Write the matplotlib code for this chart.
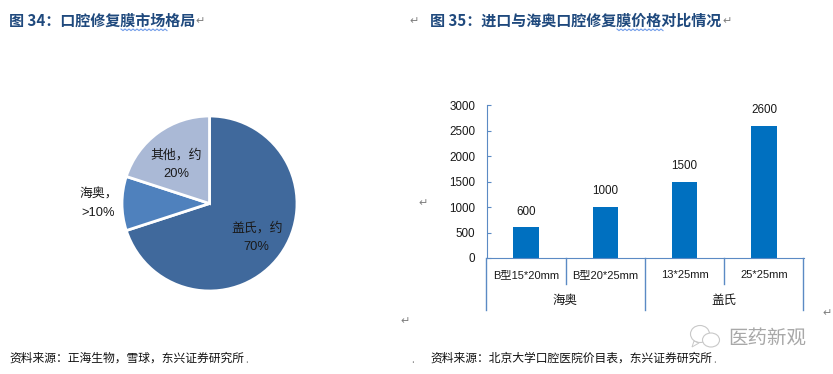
import matplotlib
matplotlib.use("Agg")
import matplotlib.pyplot as plt
from matplotlib.patches import Ellipse, Polygon

plt.rcParams['font.family'] = ['Noto Sans CJK SC', 'DejaVu Sans']
label_font = ['Liberation Sans', 'Noto Sans CJK SC']

W, H = 833, 374

# pie data
share_labels = ['盖氏，约\n70%', '海奥，\n>10%', '其他，约\n20%']
share_values = [70, 10, 20]
share_colors = ['#40699C', '#4F81BD', '#AAB9D6']

# bar data
price_labels = ['B型15*20mm', 'B型20*25mm', '13*25mm', '25*25mm']
price_values = [600, 1000, 1500, 2600]
brand_names = ['海奥', '盖氏']
y_ticks = [0, 500, 1000, 1500, 2000, 2500, 3000]

axis_col = '#5B8AC4'
title_col = '#1F497D'
mark_col = '#7F7F7F'
text_col = '#1a1a1a'


def px_axes(left, top, right, bottom):
    return fig.add_axes([left / W, 1 - bottom / H, (right - left) / W, (bottom - top) / H])


fig = plt.figure(figsize=(W / 100, H / 100), dpi=100, facecolor='white')

# pie
r = 87.5
ax1 = px_axes(209.5 - r, 203.5 - r, 209.5 + r, 203.5 + r)
ax1.pie(share_values, colors=share_colors, startangle=90, counterclock=False, radius=1,
        wedgeprops=dict(edgecolor='white', linewidth=2))
ax1.set_xlim(-1, 1)
ax1.set_ylim(-1, 1)
label_pos = [(0.54, -0.39), (-1.27, -0.005), (-0.383, 0.446)]
for lab, (lx, ly) in zip(share_labels, label_pos):
    ax1.text(lx, ly, lab, ha='center', va='center', fontsize=9.3, color=text_col,
             linespacing=1.65, family=label_font)

# bars
ax2 = px_axes(486.5, 105.3, 803.5, 258)
x = list(range(len(price_values)))
ax2.bar(x, price_values, width=0.32, color='#0070C0')
ax2.set_xlim(-0.5, 3.5)
ax2.set_ylim(0, 3000)
ax2.set_yticks(y_ticks)
ax2.tick_params(axis='y', direction='in', length=3, color=axis_col, pad=8)
for t in ax2.get_yticklabels():
    t.set_fontsize(8.4)
    t.set_color(text_col)
    t.set_family(label_font)
ax2.set_xticks(x)
ax2.set_xticklabels(price_labels, fontsize=8, color=text_col, family=label_font)
ax2.tick_params(axis='x', length=0, pad=9)
for s in ['top', 'right']:
    ax2.spines[s].set_visible(False)
ax2.spines['left'].set_color(axis_col)
ax2.spines['bottom'].set_color(axis_col)
for xi, v in zip(x, price_values):
    ax2.annotate(str(v), (xi, v), xytext=(0, 7), textcoords='offset points',
                 ha='center', va='bottom', fontsize=8.4, color=text_col, family=label_font)

# overlay in pixel coordinates for the multi-level axis and page marks
ov = fig.add_axes([0, 0, 1, 1], zorder=5)
ov.set_xlim(0, W)
ov.set_ylim(H, 0)
ov.axis('off')
ov.patch.set_alpha(0)

for px in [486.5, 645, 803.5]:
    ov.plot([px, px], [258, 310], color=axis_col, lw=1)
for px in [566, 724.5]:
    ov.plot([px, px], [258, 284], color=axis_col, lw=1)
ov.text(565.5, 300.5, brand_names[0], ha='center', va='center', fontsize=9, color=text_col)
ov.text(724, 300.5, brand_names[1], ha='center', va='center', fontsize=9, color=text_col)

# headings
ov.text(9, 20.5, '图 34：口腔修复膜市场格局', fontsize=10.85, fontweight='bold', color=title_col, va='center')
ov.text(430, 20.5, '图 35：进口与海奥口腔修复膜价格对比情况', fontsize=10.85, fontweight='bold', color=title_col, va='center')

# sources
ov.text(9, 358.5, '资料来源：正海生物，雪球，东兴证券研究所', fontsize=8.5, style='italic', color='#111111', va='center')
ov.text(430, 358.5, '资料来源：北京大学口腔医院价目表，东兴证券研究所', fontsize=8.5, style='italic', color='#111111', va='center')

# paragraph marks
for mx, my in [(200, 21), (414, 21), (727, 21), (423, 203), (405, 321), (827, 313)]:
    ov.text(mx, my, '↵', fontsize=8, color=mark_col, ha='center', va='center', family='DejaVu Sans')
for mx in [247, 413, 715]:
    ov.text(mx, 360, '.', fontsize=7, color=mark_col, ha='center', va='center')

# spell check squiggles
for start in [121, 617]:
    sx = [start + i * 2 for i in range(24)]
    sy = [29 + (i % 2) * 1.6 for i in range(24)]
    ov.plot(sx, sy, color='#6F9BE8', lw=0.8)

# watermark
wm = '#C8C8C8'
ov.add_patch(Ellipse((700, 334), 19, 17, fill=False, edgecolor=wm, lw=0.8))
ov.add_patch(Ellipse((711, 340), 17, 14, facecolor='white', edgecolor=wm, lw=0.8))
ov.add_patch(Polygon([[694, 341], [692, 347], [699, 343]], closed=True, fill=False, edgecolor=wm, lw=0.7))
ov.text(728, 338, '医药新观', fontsize=14, color='#A8A8A8', va='center')

fig.savefig('out.png', dpi=100)
